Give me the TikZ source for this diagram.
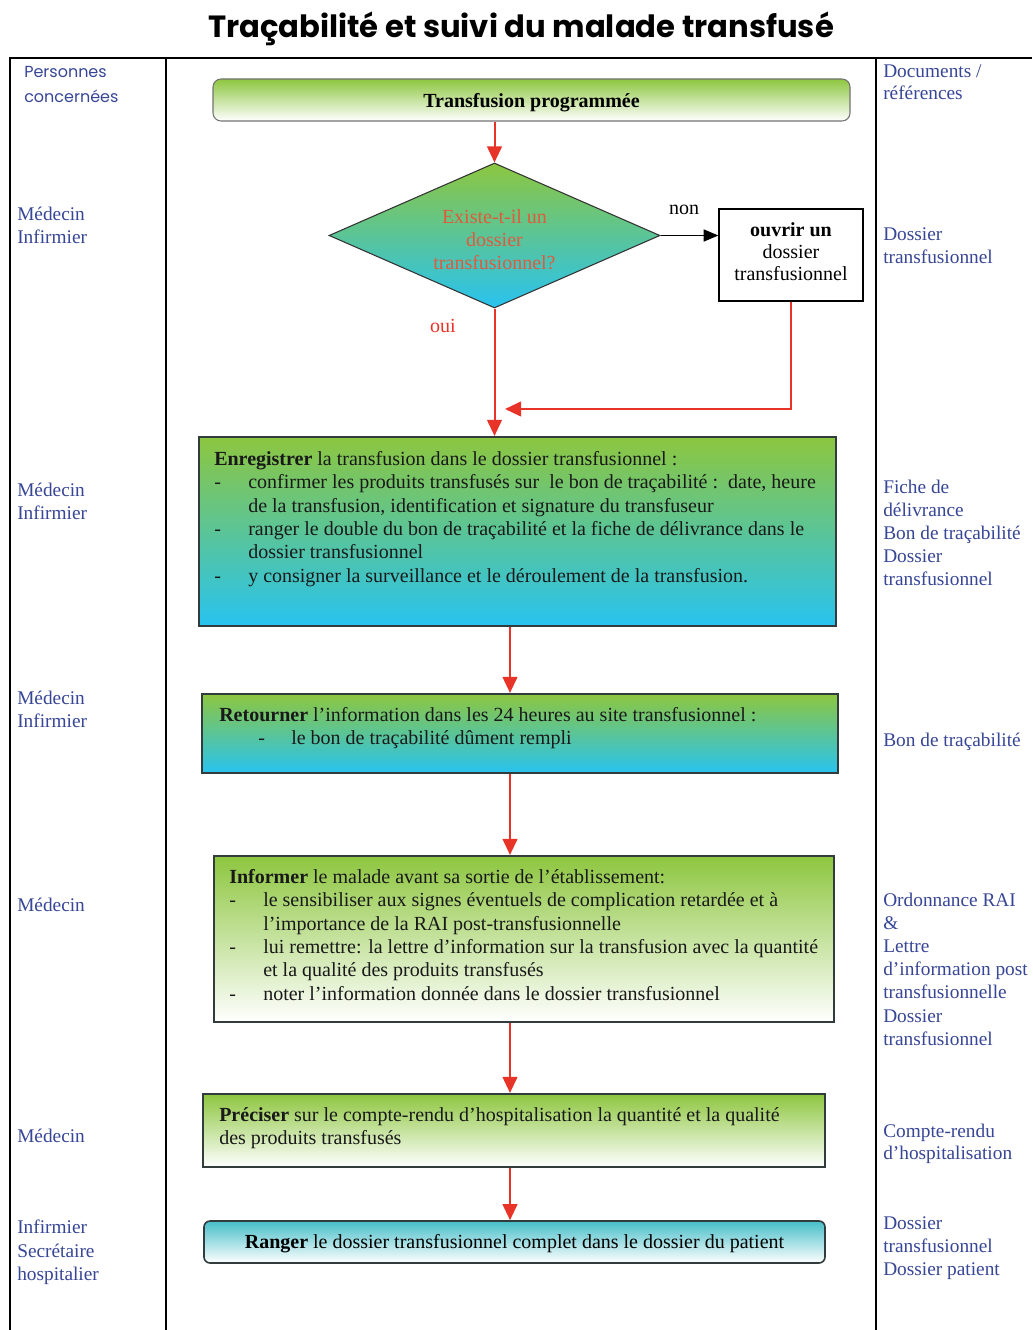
\documentclass[tikz,border=0pt]{standalone}
\usepackage{fontspec}
\setmainfont{Liberation Serif}
\newfontfamily\comic{Poppins}
\usetikzlibrary{shapes.geometric,arrows.meta,calc}
\newlength\pxu \setlength\pxu{0.75pt}
\definecolor{fgreen}{RGB}{141,198,63}
\definecolor{fcyan}{RGB}{40,195,240}
\definecolor{fteal}{RGB}{70,190,200}
\definecolor{fred}{RGB}{232,52,40}
\definecolor{fblue}{RGB}{55,70,150}
\definecolor{forange}{RGB}{224,90,60}
\definecolor{fborder}{RGB}{50,60,60}
\newcommand\itm[1]{\makebox[34\pxu][l]{-}#1}
\newcommand\cnt[1]{\hspace*{34\pxu}#1}
\begin{document}
\begin{tikzpicture}[x=0.75pt,y=-0.75pt,
  tbl/.style={line width=1.5pt,black},
  stepbox/.style={draw=fborder,line width=1.6pt,inner sep=0pt},
  txt/.style={inner sep=0pt,align=left,font=\fontsize{15}{17.5}\selectfont,text=black!90},
  lcol/.style={inner sep=0pt,align=left,anchor=north west,font=\fontsize{14.5}{17.3}\selectfont,text=fblue},
  redarrow/.style={draw=fred,line width=1.5pt,-{Triangle[width=11pt,length=12pt]}},
  redline/.style={draw=fred,line width=1.5pt}
]
\useasboundingbox[fill=white] (0,0) rectangle (1032,1330);
% table
\draw[tbl] (10,1330) -- (10,58) -- (1032,58);
\draw[tbl] (166,58) -- (166,1330);
\draw[tbl] (876,58) -- (876,1330);
% title
\node[inner sep=0pt] (title) at (521,29) {\comic\bfseries\fontsize{23}{27}\selectfont Traçabilité et suivi du malade transfusé};
% headers
\node[lcol,font=\comic\fontsize{12}{18.5}\selectfont] (pers) at (24,66) {Personnes\\concernées};
\node[lcol,font=\fontsize{14.5}{16.5}\selectfont] (docs) at (883,64) {Documents /\\références};
% flow
\node[draw=black!55,line width=0.8pt,rounded corners=8\pxu,top color=fgreen,bottom color=white,
      minimum width=637\pxu,minimum height=42\pxu] (prog) at (531.5,100) {};
\node[inner sep=0pt,font=\fontsize{15}{17}\selectfont] (progt) at (531.5,103) {\textbf{Transfusion programmée}};
\node[diamond,draw=black!80,line width=0.8pt,top color=fgreen,bottom color=fcyan,
      minimum width=331\pxu,minimum height=145\pxu,shape aspect=2.28,inner sep=0pt] (dia) at (494.5,235.5) {};
\node[inner sep=0pt,align=center,text=forange,font=\fontsize{15}{17.3}\selectfont] (diat) at (494.5,240) {Existe-t-il un\\dossier\\transfusionnel?};
\node[draw=black,line width=1pt,minimum width=144\pxu,minimum height=92\pxu] (open) at (791,255) {};
\node[inner sep=0pt,align=center,font=\fontsize{15}{16.5}\selectfont] (opent) at (791,252) {\textbf{ouvrir un}\\dossier\\transfusionnel};
\node[inner sep=0pt,font=\fontsize{15}{17}\selectfont] (non) at (684,210) {non};
\node[inner sep=0pt,text=fred,font=\fontsize{15}{17}\selectfont] (oui) at (443,326) {oui};

\node[stepbox,top color=fgreen,bottom color=fcyan,minimum width=637\pxu,minimum height=189\pxu] (enreg) at (517.5,531.5) {};
\node[txt,anchor=north west] (enregt) at (214,451) {\textbf{Enregistrer} la transfusion dans le dossier transfusionnel :\\
\itm{confirmer les produits transfusés sur\ \ le bon de traçabilité :\ \ date, heure}\\
\cnt{de la transfusion, identification et signature du transfuseur}\\
\itm{ranger le double du bon de traçabilité et la fiche de délivrance dans le}\\
\cnt{dossier transfusionnel}\\
\itm{y consigner la surveillance et le déroulement de la transfusion.}};

\node[stepbox,top color=fgreen,bottom color=fcyan,minimum width=636\pxu,minimum height=79\pxu] (retour) at (520,733.5) {};
\node[txt,anchor=north west] (retourt) at (219,707) {\textbf{Retourner} l'information dans les 24 heures au site transfusionnel :\\
\hspace*{39\pxu}\makebox[33\pxu][l]{-}le bon de traçabilité dûment rempli};

\node[stepbox,top color=fgreen,bottom color=white,minimum width=620\pxu,minimum height=166\pxu] (inform) at (524,939) {};
\node[txt,anchor=north west] (informt) at (229,869) {\textbf{Informer} le malade avant sa sortie de l'établissement:\\
\itm{le sensibiliser aux signes éventuels de complication retardée et à}\\
\cnt{l'importance de la RAI post-transfusionnelle}\\
\itm{lui remettre: la lettre d'information sur la transfusion avec la quantité}\\
\cnt{et la qualité des produits transfusés}\\
\itm{noter l'information donnée dans le dossier transfusionnel}};

\node[stepbox,top color=fgreen,bottom color=white,minimum width=622\pxu,minimum height=73\pxu] (prec) at (514,1130.5) {};
\node[txt,anchor=north west] (prect) at (219,1107) {\textbf{Préciser} sur le compte-rendu d'hospitalisation la quantité et la qualité\\
des produits transfusés};

\node[stepbox,line width=1.2pt,rounded corners=6\pxu,top color=fteal,bottom color=white,minimum width=621\pxu,minimum height=42\pxu] (ranger) at (514.5,1242) {};
\node[inner sep=0pt,font=\fontsize{15}{17}\selectfont] (rangert) at (514.5,1244) {\textbf{Ranger} le dossier transfusionnel complet dans le dossier du patient};

% connectors
\coordinate (xcol) at (510,0);
\coordinate (ret) at (505,409);
\draw[redarrow] (prog.south -| dia.north) -- (dia.north);
\draw[line width=1.2pt,-{Triangle[width=9pt,length=11pt]}] (dia.east) -- (dia.east -| open.west);
\draw[redarrow] (dia.south) -- (dia.south |- enreg.north);
\draw[redline,-{Triangle[width=11pt,length=12pt]}] (open.south) -- (open.south |- ret) -- (ret);
\draw[redarrow] (enreg.south -| xcol) -- (retour.north -| xcol);
\draw[redarrow] (retour.south -| xcol) -- (inform.north -| xcol);
\draw[redarrow] (inform.south -| xcol) -- (prec.north -| xcol);
\draw[redarrow] (prec.south -| xcol) -- (ranger.north -| xcol);

% left column
\node[lcol] (l1) at (17,207) {Médecin\\Infirmier};
\node[lcol] (l2) at (17,483) {Médecin\\Infirmier};
\node[lcol] (l3) at (17,691) {Médecin\\Infirmier};
\node[lcol] (l4) at (17,898) {Médecin};
\node[lcol] (l5) at (17,1129) {Médecin};
\node[lcol,font=\fontsize{14.5}{17.6}\selectfont] (l6) at (17,1220) {Infirmier\\Secrétaire\\hospitalier};

% right column
\node[lcol] (r1) at (883,227) {Dossier\\transfusionnel};
\node[lcol] (r2) at (883,480) {Fiche de\\délivrance\\Bon de traçabilité\\Dossier\\transfusionnel};
\node[lcol] (r3) at (883,733) {Bon de traçabilité};
\node[lcol] (r4) at (883,893) {Ordonnance RAI\\\&\\Lettre\\d’information post\\transfusionnelle\\Dossier\\transfusionnel};
\node[lcol,font=\fontsize{14.5}{16.5}\selectfont] (r5) at (883,1124) {Compte-rendu\\d’hospitalisation};
\node[lcol] (r6) at (883,1216) {Dossier\\transfusionnel\\Dossier patient};
\end{tikzpicture}
\end{document}
